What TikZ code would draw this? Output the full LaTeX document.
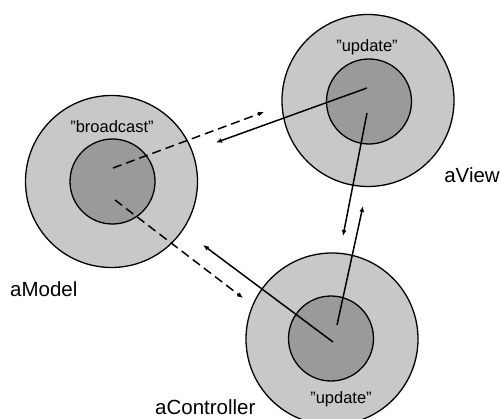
\documentclass[tikz,border=0pt]{standalone}
\usepackage{fontspec}
\setmainfont{Liberation Sans}
\usetikzlibrary{arrows.meta}
\definecolor{ringgray}{HTML}{C8C8C8}
\definecolor{coregray}{HTML}{9A9A9A}
\begin{document}
\begin{tikzpicture}[x=1pt,y=-1pt,
  outer/.style={circle,draw=black,line width=1.3pt,fill=ringgray,minimum size=172pt,inner sep=0pt},
  inner/.style={circle,draw=black,line width=1.3pt,fill=coregray,minimum size=85pt,inner sep=0pt},
  msg/.style={line width=1.5pt,-{Latex[length=6pt,width=5pt]}},
  dmsg/.style={msg,dash pattern=on 9pt off 5pt},
  quoted/.style={font=\fontsize{16.5}{18}\selectfont},
  objname/.style={font=\fontsize{20.5}{22}\selectfont}]
\useasboundingbox (0,0) rectangle (500,419);
% aModel
\node[outer] (mO) at (111.5,181.5) {};
\node[inner] (mI) at (112.5,181.5) {};
% aView
\node[outer] (vO) at (368,100.5) {};
\node[inner] (vI) at (369,101.5) {};
% aController
\node[outer] (cO) at (332,339) {};
\node[inner] (cI) at (331,338.5) {};
% endpoints
\coordinate (m1) at (113,168);
\coordinate (m2) at (115,200);
\coordinate (t1) at (264,112);
\coordinate (t2) at (216,142.5);
\coordinate (t3) at (243,298);
\coordinate (t4) at (203,245);
\coordinate (v1) at (367,88);
\coordinate (v2) at (367,113);
\coordinate (t5) at (343,236);
\coordinate (t6) at (363,206);
\coordinate (c1) at (333,342);
\coordinate (c2) at (337,325);
% connectors
\draw[dmsg] (m1) -- (t1);
\draw[msg] (v1) -- (t2);
\draw[dmsg] (m2) -- (t3);
\draw[msg] (c1) -- (t4);
\draw[msg] (v2) -- (t5);
\draw[msg] (c2) -- (t6);
% texts
\node[quoted] (qb) at (112,127) {"broadcast"};
\node[quoted] (qv) at (367,47) {"update"};
\node[quoted] (qc) at (341,399) {"update"};
\node[objname,anchor=west,inner sep=0pt] (nm) at (10,289) {aModel};
\node[objname,anchor=east,inner sep=0pt] (nv) at (500,175) {aView};
\node[objname,anchor=base west,inner sep=0pt] (nc) at (155,414) {aController};
\end{tikzpicture}
\end{document}
